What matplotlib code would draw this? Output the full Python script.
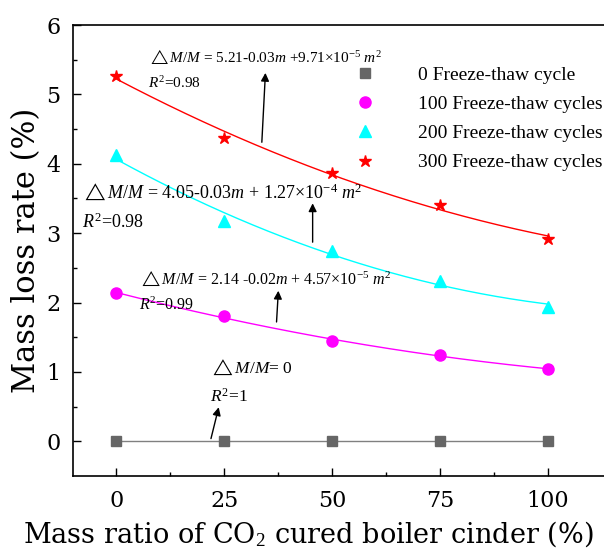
import matplotlib.pyplot as plt
import numpy as np

plt.rcParams['font.family'] = ['Liberation Serif', 'DejaVu Serif']
plt.rcParams['mathtext.fontset'] = 'custom'
plt.rcParams['mathtext.rm'] = 'Liberation Serif'
plt.rcParams['mathtext.it'] = 'Liberation Serif:italic'

# Data
ratio = [0, 25, 50, 75, 100]
loss_0 = [0, 0, 0, 0, 0]
loss_100 = [2.14, 1.80, 1.44, 1.25, 1.04]
loss_200 = [4.12, 3.17, 2.74, 2.31, 1.94]
loss_300 = [5.27, 4.37, 3.86, 3.41, 2.92]

fig = plt.figure(figsize=(6.04, 5.53), dpi=100)
ax = fig.add_axes([73 / 604, 1 - 476 / 553, (630 - 73) / 604, (476 - 25) / 553])

xs = np.linspace(0, 100, 200)
ax.plot(ratio, loss_0, color='gray', lw=1, zorder=1)
for y, c in [(loss_100, 'magenta'), (loss_200, 'cyan'), (loss_300, 'red')]:
    p = np.polyfit(ratio, y, 2)
    ax.plot(xs, np.polyval(p, xs), color=c, lw=1, zorder=1)

ax.plot(ratio, loss_0, 's', color='#666666', ms=7, ls='none', label='0 Freeze-thaw cycle', zorder=3)
ax.plot(ratio, loss_100, 'o', color='magenta', ms=8, ls='none', label='100 Freeze-thaw cycles', zorder=3)
ax.plot(ratio, loss_200, '^', color='cyan', ms=9, ls='none', label='200 Freeze-thaw cycles', zorder=3)
ax.plot(ratio, loss_300, '*', color='red', ms=9, ls='none', label='300 Freeze-thaw cycles', zorder=3)

# x range chosen so that 0..100 sits where the reference has it
ax.set_xlim(-10, 119)
ax.set_ylim(-0.5, 6)
ax.set_xticks([0, 25, 50, 75, 100])
ax.set_xticks([12.5, 37.5, 62.5, 87.5], minor=True)
ax.set_yticks([0, 1, 2, 3, 4, 5, 6])
ax.set_yticks([0.5, 1.5, 2.5, 3.5, 4.5, 5.5], minor=True)
ax.tick_params(which='both', direction='in', width=1)
ax.tick_params(which='major', length=6)
ax.tick_params(which='minor', length=3)
ax.tick_params(axis='x', pad=10)
ax.tick_params(axis='y', pad=9)
for lab in ax.get_xticklabels() + ax.get_yticklabels():
    lab.set_fontfamily('DejaVu Serif')
    lab.set_fontsize(16)
for s in ax.spines.values():
    s.set_linewidth(1.2)

ax.set_xlabel('Mass ratio of CO$_2$ cured boiler cinder (%)', fontsize=19.5,
              family='DejaVu Serif')
ax.xaxis.set_label_coords((308 - 73) / (630 - 73), -0.095)
ax.set_ylabel('Mass loss rate (%)', fontsize=22, family='DejaVu Serif', labelpad=3)

arr = dict(arrowstyle='-|>', color='black', lw=1, mutation_scale=12)
ax.annotate('', xy=(34.6, 5.35), xytext=(33.7, 4.27), arrowprops=arr)
ax.annotate('', xy=(45.5, 3.47), xytext=(45.5, 2.83), arrowprops=arr)
ax.annotate('', xy=(37.6, 2.21), xytext=(37.1, 1.68), arrowprops=arr)
ax.annotate('', xy=(23.9, 0.53), xytext=(21.8, 0.0), arrowprops=arr)

ax.text(7.3, 5.54, r'$\triangle M/M$ = 5.21-0.03$m$ +9.71×10$^{-5}$ $m^2$', fontsize=11, va='center')
ax.text(7.3, 5.16, r'$R^2$=0.98', fontsize=11, va='center')
ax.text(-8.0, 3.60, r'$\triangle M/M$ = 4.05-0.03$m$ + 1.27×10$^{-4}$ $m^2$', fontsize=13, va='center')
ax.text(-8.0, 3.16, r'$R^2$=0.98', fontsize=13, va='center')
ax.text(5.2, 2.34, r'$\triangle M/M$ = 2.14 -0.02$m$ + 4.57×10$^{-5}$ $m^2$', fontsize=11.5, va='center')
ax.text(5.2, 1.96, r'$R^2$=0.99', fontsize=11.5, va='center')
ax.text(21.8, 1.07, r'$\triangle M/M$= 0', fontsize=12.5, va='center')
ax.text(21.8, 0.64, r'$R^2$=1', fontsize=12.5, va='center')

ax.legend(loc='upper left', bbox_to_anchor=(0.467, 0.948), frameon=False, fontsize=14,
          handletextpad=1.95, labelspacing=0.6, handlelength=1.5)

fig.savefig('out.png', dpi=100)
